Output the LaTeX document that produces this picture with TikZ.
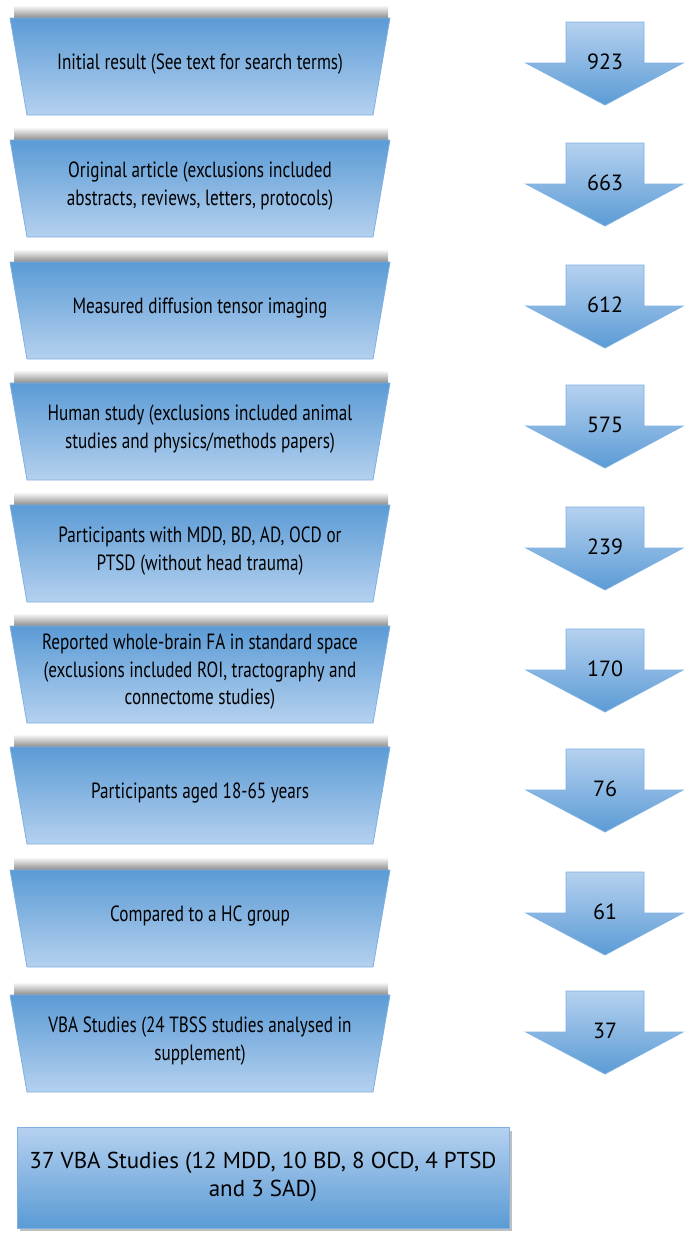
\documentclass[tikz,border=0pt]{standalone}
\usepackage{fontspec}
\setmainfont{PT Sans}
\newfontfamily\stretto[FakeStretch=0.78]{PT Sans}
\usepackage{tikz}
\usetikzlibrary{calc}

\definecolor{fasciaalto}{HTML}{5B9BD5}
\definecolor{fasciabasso}{HTML}{B5D1EF}
\definecolor{bordo}{HTML}{7FB0E2}

\begin{document}
\begin{tikzpicture}[x=1pt,y=-1pt,
  fascia/.style={top color=fasciaalto, bottom color=fasciabasso, draw=bordo, line width=0.8pt},
  freccia/.style={top color=fasciabasso, bottom color=fasciaalto, draw=bordo, line width=0.8pt},
  ombra/.style={top color=white, bottom color=black!45, draw=none},
  testo/.style={align=center, font=\stretto\fontsize{22}{27.5}\selectfont, inner sep=0pt},
  numero/.style={font=\fontsize{22}{26}\selectfont, inner sep=0pt}]

  % cornice
  \useasboundingbox (0,0) rectangle (689,1240);

  % fasi della selezione
  \foreach \k/\ytop/\yfr/\txt/\num in {
    1/18/22/{Initial result (See text for search terms)}/923,
    2/140/143/{Original article (exclusions included\\abstracts, reviews, letters, protocols)}/663,
    3/262/265/{Measured diffusion tensor imaging}/612,
    4/383/385/{Human study (exclusions included animal\\studies and physics/methods papers)}/575,
    5/505/507/{Participants with MDD, BD, AD, OCD or\\PTSD (without head trauma)}/239,
    6/626/629/{Reported whole-brain FA in standard space\\(exclusions included ROI, tractography and\\connectome studies)}/170,
    7/747/749/{Participants aged 18-65 years}/76,
    8/870/872/{Compared to a HC group}/61,
    9/995/991/{VBA Studies (24 TBSS studies analysed in\\supplement)}/37}{
    % ombra sopra
    \shade[ombra] (14,\ytop-13) rectangle (388,\ytop);
    % trapezio
    \draw[fascia] (10,\ytop) -- (390,\ytop) -- (373,\ytop+97) -- (27,\ytop+97) -- cycle;
    \node[testo] (fase\k) at (200,\ytop+46) {\txt};
    % freccia col conteggio
    \draw[freccia] (566,\yfr) -- (644,\yfr) -- (644,\yfr+41) -- (683,\yfr+41)
      -- (605,\yfr+83) -- (526,\yfr+41) -- (566,\yfr+41) -- cycle;
    \node[numero] (conta\k) at (605,\yfr+40) {\num};
  }

  % risultato finale
  \fill[black!25] (20,1131) rectangle (512,1231);
  \draw[freccia] (17,1127) rectangle (509,1228);
  \node[align=center, font=\fontsize{23}{28}\selectfont, inner sep=0pt] (totale) at (263,1177)
    {37 VBA Studies (12 MDD, 10 BD, 8 OCD, 4 PTSD\\and 3 SAD)};
\end{tikzpicture}
\end{document}
